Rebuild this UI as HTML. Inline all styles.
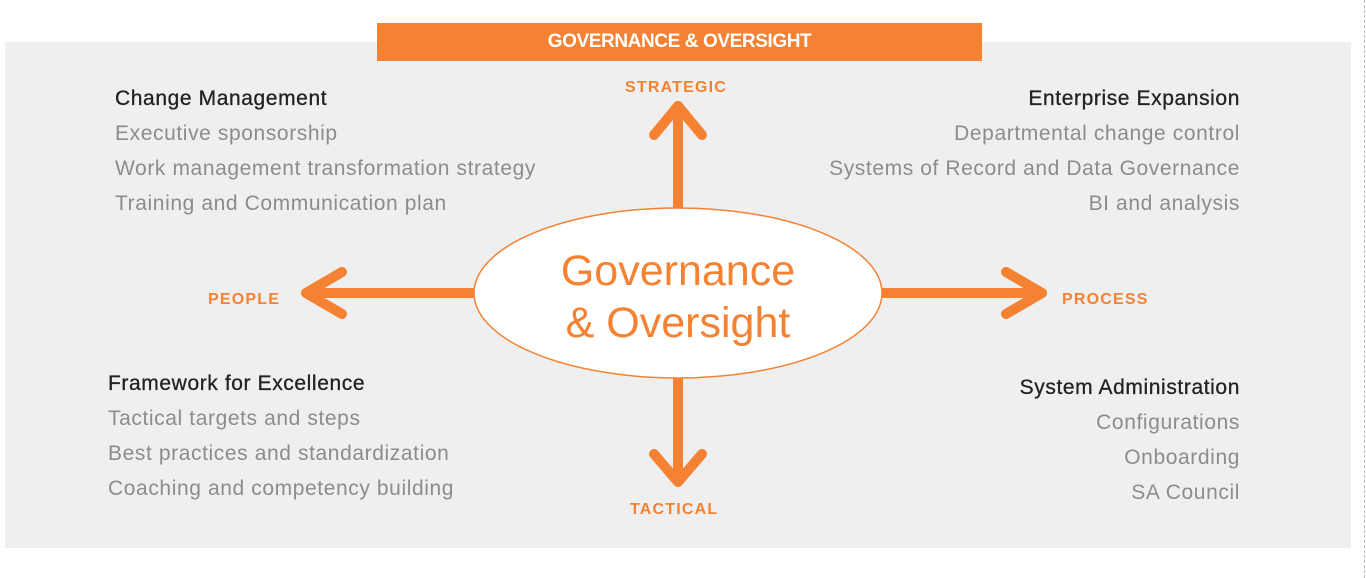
<!DOCTYPE html><html><head><style>
body{margin:0;width:1366px;height:578px;background:#fff;position:relative;overflow:hidden;font-family:"Liberation Sans",sans-serif}
.panel{position:absolute;left:5px;top:42px;width:1346px;height:506px;background:#efefef}
.banner{position:absolute;left:377px;top:23px;width:605px;height:38px;background:#f58232;color:#fff;font-weight:bold;font-size:19px;text-align:center;line-height:38px;letter-spacing:-0.4px}
.t{position:absolute;font-size:21px;letter-spacing:0.6px;line-height:35px;color:#8c8c8c;white-space:nowrap}
.t b{color:#222;font-weight:normal;display:block;-webkit-text-stroke:0.3px #222}
.r{text-align:right}
.lab{position:absolute;color:#f58232;font-weight:bold;font-size:16px;letter-spacing:1.2px}
.dash{position:absolute;left:1364px;top:0;height:578px;border-left:1px dashed #bbb}
</style></head><body>
<div class="panel"></div>
<div class="dash"></div>
<div class="banner">GOVERNANCE &amp; OVERSIGHT</div>
<svg width="1366" height="578" style="position:absolute;left:0;top:0">
<g stroke="#f58232" stroke-width="10" fill="none" stroke-linecap="round" stroke-linejoin="round">
<line x1="678" y1="210" x2="678" y2="106"/><polyline points="654,135 678,106 702,135"/>
<line x1="678" y1="376" x2="678" y2="482"/><polyline points="654,454 678,482 702,454"/>
<line x1="476" y1="293" x2="306" y2="293"/><polyline points="342,272 306,293 342,314"/>
<line x1="880" y1="293" x2="1042" y2="293"/><polyline points="1006,272 1042,293 1006,314"/>
</g>
<ellipse cx="678" cy="293" rx="204" ry="85" fill="#fff" stroke="#f58232" stroke-width="1.5"/>
<text x="678" y="285" text-anchor="middle" font-family="Liberation Sans" font-size="43" fill="#f58232">Governance</text>
<text x="678" y="337" text-anchor="middle" font-family="Liberation Sans" font-size="43" fill="#f58232">&amp; Oversight</text>
</svg>
<div class="lab" style="left:625px;top:79px">STRATEGIC</div>
<div class="lab" style="left:630px;top:501px">TACTICAL</div>
<div class="lab" style="left:208px;top:291px">PEOPLE</div>
<div class="lab" style="left:1062px;top:291px">PROCESS</div>
<div class="t" style="left:115px;top:81px"><b>Change Management</b>Executive sponsorship<br>Work management transformation strategy<br>Training and Communication plan</div>
<div class="t r" style="right:126px;top:81px"><b>Enterprise Expansion</b>Departmental change control<br>Systems of Record and Data Governance<br>BI and analysis</div>
<div class="t" style="left:108px;top:366px"><b>Framework for Excellence</b>Tactical targets and steps<br>Best practices and standardization<br>Coaching and competency building</div>
<div class="t r" style="right:126px;top:370px"><b>System Administration</b>Configurations<br>Onboarding<br>SA Council</div>
</body></html>
